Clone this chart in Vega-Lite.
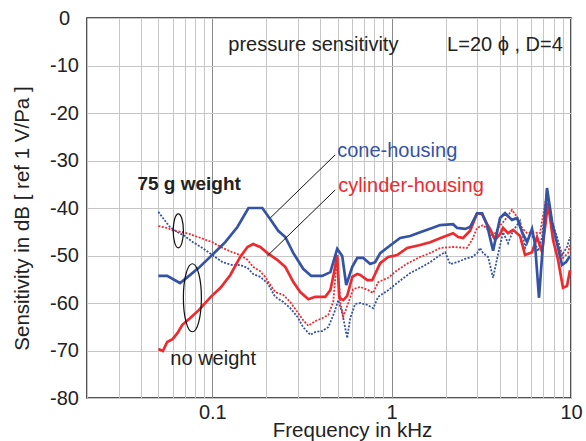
{
"$schema": "https://vega.github.io/schema/vega-lite/v6.json",
"width": 484,
"height": 380,
"autosize": {"type": "none"},
"padding": {"left": 87, "top": 18, "right": 15, "bottom": 43},
"background": "white",
"config": {
  "font": "Liberation Sans",
  "view": {"stroke": "#1a1a1a", "strokeWidth": 1.5},
  "axis": {"domain": false, "ticks": false, "tickSize": 0, "labelColor": "#222", "titleColor": "#222", "labelFontSize": 20, "titleFontSize": 20.5, "titleFontWeight": "normal", "labelOverlap": false, "labelBound": false, "labelFlush": false, "gridWidth": 1}
},
"datasets": {
  "curves": [
    {"s":"cone","w":"none","f":0.050,"d":-54.3},{"s":"cone","w":"none","f":0.056,"d":-54.3},{"s":"cone","w":"none","f":0.066,"d":-55.8},{"s":"cone","w":"none","f":0.073,"d":-54.5},{"s":"cone","w":"none","f":0.084,"d":-52.6},{"s":"cone","w":"none","f":0.101,"d":-49.7},{"s":"cone","w":"none","f":0.118,"d":-47.2},{"s":"cone","w":"none","f":0.138,"d":-44.0},{"s":"cone","w":"none","f":0.159,"d":-40.0},{"s":"cone","w":"none","f":0.190,"d":-40.0},{"s":"cone","w":"none","f":0.210,"d":-42.3},{"s":"cone","w":"none","f":0.233,"d":-44.8},{"s":"cone","w":"none","f":0.255,"d":-46.1},{"s":"cone","w":"none","f":0.283,"d":-49.5},{"s":"cone","w":"none","f":0.321,"d":-52.8},{"s":"cone","w":"none","f":0.356,"d":-54.3},{"s":"cone","w":"none","f":0.410,"d":-54.3},{"s":"cone","w":"none","f":0.455,"d":-53.5},{"s":"cone","w":"none","f":0.497,"d":-48.6},{"s":"cone","w":"none","f":0.530,"d":-50.1},{"s":"cone","w":"none","f":0.558,"d":-56.2},{"s":"cone","w":"none","f":0.603,"d":-52.4},{"s":"cone","w":"none","f":0.643,"d":-50.5},{"s":"cone","w":"none","f":0.694,"d":-50.5},{"s":"cone","w":"none","f":0.759,"d":-51.8},{"s":"cone","w":"none","f":0.809,"d":-51.4},{"s":"cone","w":"none","f":0.863,"d":-49.5},{"s":"cone","w":"none","f":0.956,"d":-48.2},{"s":"cone","w":"none","f":1.115,"d":-46.3},{"s":"cone","w":"none","f":1.268,"d":-45.9},{"s":"cone","w":"none","f":1.442,"d":-45.1},{"s":"cone","w":"none","f":1.682,"d":-44.2},{"s":"cone","w":"none","f":1.864,"d":-43.6},{"s":"cone","w":"none","f":2.201,"d":-43.4},{"s":"cone","w":"none","f":2.317,"d":-44.2},{"s":"cone","w":"none","f":2.567,"d":-44.4},{"s":"cone","w":"none","f":2.738,"d":-44.0},{"s":"cone","w":"none","f":2.995,"d":-41.1},{"s":"cone","w":"none","f":3.193,"d":-41.1},{"s":"cone","w":"none","f":3.404,"d":-43.6},{"s":"cone","w":"none","f":3.677,"d":-49.0},{"s":"cone","w":"none","f":4.022,"d":-42.1},{"s":"cone","w":"none","f":4.288,"d":-41.1},{"s":"cone","w":"none","f":4.691,"d":-42.5},{"s":"cone","w":"none","f":5.003,"d":-42.1},{"s":"cone","w":"none","f":5.334,"d":-45.1},{"s":"cone","w":"none","f":5.687,"d":-47.2},{"s":"cone","w":"none","f":6.063,"d":-44.4},{"s":"cone","w":"none","f":6.301,"d":-47.6},{"s":"cone","w":"none","f":6.632,"d":-58.9},{"s":"cone","w":"none","f":7.348,"d":-35.8},{"s":"cone","w":"none","f":7.839,"d":-42.9},{"s":"cone","w":"none","f":8.357,"d":-47.4},{"s":"cone","w":"none","f":8.911,"d":-52.0},{"s":"cone","w":"none","f":9.38,"d":-51.4},{"s":"cone","w":"none","f":9.872,"d":-50.1},
    {"s":"cyl","w":"none","f":0.050,"d":-69.7},{"s":"cyl","w":"none","f":0.053,"d":-70.1},{"s":"cyl","w":"none","f":0.056,"d":-68.2},{"s":"cyl","w":"none","f":0.060,"d":-67.6},{"s":"cyl","w":"none","f":0.064,"d":-66.3},{"s":"cyl","w":"none","f":0.068,"d":-64.6},{"s":"cyl","w":"none","f":0.075,"d":-63.2},{"s":"cyl","w":"none","f":0.084,"d":-61.5},{"s":"cyl","w":"none","f":0.098,"d":-58.7},{"s":"cyl","w":"none","f":0.111,"d":-56.8},{"s":"cyl","w":"none","f":0.126,"d":-54.1},{"s":"cyl","w":"none","f":0.143,"d":-50.3},{"s":"cyl","w":"none","f":0.157,"d":-48.2},{"s":"cyl","w":"none","f":0.169,"d":-47.6},{"s":"cyl","w":"none","f":0.185,"d":-48.2},{"s":"cyl","w":"none","f":0.203,"d":-49.5},{"s":"cyl","w":"none","f":0.230,"d":-50.9},{"s":"cyl","w":"none","f":0.255,"d":-52.4},{"s":"cyl","w":"none","f":0.283,"d":-55.6},{"s":"cyl","w":"none","f":0.309,"d":-57.7},{"s":"cyl","w":"none","f":0.343,"d":-59.2},{"s":"cyl","w":"none","f":0.375,"d":-58.7},{"s":"cyl","w":"none","f":0.426,"d":-58.7},{"s":"cyl","w":"none","f":0.455,"d":-57.3},{"s":"cyl","w":"none","f":0.472,"d":-54.5},{"s":"cyl","w":"none","f":0.497,"d":-49.9},{"s":"cyl","w":"none","f":0.510,"d":-58.9},{"s":"cyl","w":"none","f":0.537,"d":-59.4},{"s":"cyl","w":"none","f":0.565,"d":-58.5},{"s":"cyl","w":"none","f":0.603,"d":-54.5},{"s":"cyl","w":"none","f":0.643,"d":-53.9},{"s":"cyl","w":"none","f":0.668,"d":-54.1},{"s":"cyl","w":"none","f":0.731,"d":-55.2},{"s":"cyl","w":"none","f":0.779,"d":-55.2},{"s":"cyl","w":"none","f":0.863,"d":-51.6},{"s":"cyl","w":"none","f":0.956,"d":-50.3},{"s":"cyl","w":"none","f":1.073,"d":-49.9},{"s":"cyl","w":"none","f":1.220,"d":-48.4},{"s":"cyl","w":"none","f":1.442,"d":-47.8},{"s":"cyl","w":"none","f":1.639,"d":-47.2},{"s":"cyl","w":"none","f":1.937,"d":-46.1},{"s":"cyl","w":"none","f":2.201,"d":-45.3},{"s":"cyl","w":"none","f":2.347,"d":-46.1},{"s":"cyl","w":"none","f":2.502,"d":-46.3},{"s":"cyl","w":"none","f":2.738,"d":-44.8},{"s":"cyl","w":"none","f":2.995,"d":-41.1},{"s":"cyl","w":"none","f":3.193,"d":-41.3},{"s":"cyl","w":"none","f":3.404,"d":-43.4},{"s":"cyl","w":"none","f":3.538,"d":-44.4},{"s":"cyl","w":"none","f":3.772,"d":-46.7},{"s":"cyl","w":"none","f":4.022,"d":-45.5},{"s":"cyl","w":"none","f":4.180,"d":-44.2},{"s":"cyl","w":"none","f":4.457,"d":-45.3},{"s":"cyl","w":"none","f":4.752,"d":-44.6},{"s":"cyl","w":"none","f":5.199,"d":-45.9},{"s":"cyl","w":"none","f":5.543,"d":-49.9},{"s":"cyl","w":"none","f":6.063,"d":-49.3},{"s":"cyl","w":"none","f":6.465,"d":-46.1},{"s":"cyl","w":"none","f":6.893,"d":-49.3},{"s":"cyl","w":"none","f":7.444,"d":-38.9},{"s":"cyl","w":"none","f":7.940,"d":-46.7},{"s":"cyl","w":"none","f":8.465,"d":-50.9},{"s":"cyl","w":"none","f":9.024,"d":-56.8},{"s":"cyl","w":"none","f":9.500,"d":-56.4},{"s":"cyl","w":"none","f":9.872,"d":-53.1},
    {"s":"cone","w":"75g","f":0.050,"d":-40.8},{"s":"cone","w":"75g","f":0.053,"d":-42.1},{"s":"cone","w":"75g","f":0.058,"d":-44.0},{"s":"cone","w":"75g","f":0.064,"d":-45.1},{"s":"cone","w":"75g","f":0.069,"d":-45.7},{"s":"cone","w":"75g","f":0.078,"d":-47.2},{"s":"cone","w":"75g","f":0.088,"d":-48.4},{"s":"cone","w":"75g","f":0.100,"d":-49.9},{"s":"cone","w":"75g","f":0.114,"d":-51.4},{"s":"cone","w":"75g","f":0.129,"d":-52.0},{"s":"cone","w":"75g","f":0.143,"d":-52.0},{"s":"cone","w":"75g","f":0.157,"d":-52.6},{"s":"cone","w":"75g","f":0.169,"d":-53.9},{"s":"cone","w":"75g","f":0.185,"d":-54.5},{"s":"cone","w":"75g","f":0.203,"d":-55.8},{"s":"cone","w":"75g","f":0.224,"d":-58.7},{"s":"cone","w":"75g","f":0.249,"d":-59.8},{"s":"cone","w":"75g","f":0.272,"d":-61.1},{"s":"cone","w":"75g","f":0.298,"d":-62.9},{"s":"cone","w":"75g","f":0.321,"d":-65.1},{"s":"cone","w":"75g","f":0.352,"d":-66.7},{"s":"cone","w":"75g","f":0.375,"d":-66.1},{"s":"cone","w":"75g","f":0.410,"d":-65.9},{"s":"cone","w":"75g","f":0.443,"d":-65.1},{"s":"cone","w":"75g","f":0.478,"d":-62.1},{"s":"cone","w":"75g","f":0.504,"d":-59.4},{"s":"cone","w":"75g","f":0.530,"d":-62.1},{"s":"cone","w":"75g","f":0.551,"d":-65.3},{"s":"cone","w":"75g","f":0.565,"d":-67.4},{"s":"cone","w":"75g","f":0.587,"d":-63.2},{"s":"cone","w":"75g","f":0.626,"d":-60.2},{"s":"cone","w":"75g","f":0.668,"d":-60.0},{"s":"cone","w":"75g","f":0.731,"d":-60.4},{"s":"cone","w":"75g","f":0.789,"d":-61.1},{"s":"cone","w":"75g","f":0.841,"d":-58.7},{"s":"cone","w":"75g","f":0.956,"d":-57.3},{"s":"cone","w":"75g","f":1.087,"d":-55.6},{"s":"cone","w":"75g","f":1.268,"d":-53.7},{"s":"cone","w":"75g","f":1.442,"d":-52.6},{"s":"cone","w":"75g","f":1.639,"d":-51.4},{"s":"cone","w":"75g","f":1.864,"d":-49.9},{"s":"cone","w":"75g","f":1.987,"d":-49.3},{"s":"cone","w":"75g","f":2.118,"d":-51.8},{"s":"cone","w":"75g","f":2.317,"d":-51.4},{"s":"cone","w":"75g","f":2.567,"d":-50.7},{"s":"cone","w":"75g","f":2.809,"d":-50.3},{"s":"cone","w":"75g","f":2.995,"d":-49.5},{"s":"cone","w":"75g","f":3.112,"d":-48.4},{"s":"cone","w":"75g","f":3.234,"d":-49.5},{"s":"cone","w":"75g","f":3.448,"d":-50.3},{"s":"cone","w":"75g","f":3.677,"d":-54.7},{"s":"cone","w":"75g","f":3.920,"d":-49.7},{"s":"cone","w":"75g","f":4.180,"d":-45.1},{"s":"cone","w":"75g","f":4.457,"d":-47.4},{"s":"cone","w":"75g","f":4.752,"d":-44.8},{"s":"cone","w":"75g","f":5.199,"d":-42.7},{"s":"cone","w":"75g","f":5.543,"d":-48.4},{"s":"cone","w":"75g","f":5.910,"d":-45.7},{"s":"cone","w":"75g","f":6.142,"d":-46.1},{"s":"cone","w":"75g","f":6.549,"d":-49.1},{"s":"cone","w":"75g","f":6.893,"d":-46.1},{"s":"cone","w":"75g","f":7.348,"d":-36.2},{"s":"cone","w":"75g","f":7.839,"d":-42.9},{"s":"cone","w":"75g","f":8.357,"d":-46.1},{"s":"cone","w":"75g","f":8.911,"d":-49.9},{"s":"cone","w":"75g","f":9.500,"d":-48.2},{"s":"cone","w":"75g","f":9.872,"d":-46.1},
    {"s":"cyl","w":"75g","f":0.050,"d":-43.8},{"s":"cyl","w":"75g","f":0.056,"d":-44.2},{"s":"cyl","w":"75g","f":0.061,"d":-44.8},{"s":"cyl","w":"75g","f":0.069,"d":-45.1},{"s":"cyl","w":"75g","f":0.075,"d":-45.5},{"s":"cyl","w":"75g","f":0.086,"d":-46.3},{"s":"cyl","w":"75g","f":0.100,"d":-47.2},{"s":"cyl","w":"75g","f":0.114,"d":-48.4},{"s":"cyl","w":"75g","f":0.129,"d":-49.3},{"s":"cyl","w":"75g","f":0.143,"d":-49.9},{"s":"cyl","w":"75g","f":0.157,"d":-50.9},{"s":"cyl","w":"75g","f":0.169,"d":-52.4},{"s":"cyl","w":"75g","f":0.185,"d":-53.3},{"s":"cyl","w":"75g","f":0.197,"d":-54.5},{"s":"cyl","w":"75g","f":0.224,"d":-57.7},{"s":"cyl","w":"75g","f":0.249,"d":-58.3},{"s":"cyl","w":"75g","f":0.272,"d":-59.8},{"s":"cyl","w":"75g","f":0.298,"d":-61.9},{"s":"cyl","w":"75g","f":0.321,"d":-63.6},{"s":"cyl","w":"75g","f":0.343,"d":-64.8},{"s":"cyl","w":"75g","f":0.375,"d":-63.8},{"s":"cyl","w":"75g","f":0.410,"d":-63.2},{"s":"cyl","w":"75g","f":0.443,"d":-62.5},{"s":"cyl","w":"75g","f":0.472,"d":-59.8},{"s":"cyl","w":"75g","f":0.497,"d":-50.3},{"s":"cyl","w":"75g","f":0.517,"d":-59.8},{"s":"cyl","w":"75g","f":0.537,"d":-62.9},{"s":"cyl","w":"75g","f":0.573,"d":-60.0},{"s":"cyl","w":"75g","f":0.610,"d":-57.1},{"s":"cyl","w":"75g","f":0.668,"d":-56.6},{"s":"cyl","w":"75g","f":0.740,"d":-57.3},{"s":"cyl","w":"75g","f":0.789,"d":-57.9},{"s":"cyl","w":"75g","f":0.841,"d":-55.6},{"s":"cyl","w":"75g","f":0.956,"d":-54.7},{"s":"cyl","w":"75g","f":1.073,"d":-53.1},{"s":"cyl","w":"75g","f":1.236,"d":-51.6},{"s":"cyl","w":"75g","f":1.442,"d":-50.3},{"s":"cyl","w":"75g","f":1.682,"d":-49.3},{"s":"cyl","w":"75g","f":1.864,"d":-48.4},{"s":"cyl","w":"75g","f":2.201,"d":-48.2},{"s":"cyl","w":"75g","f":2.634,"d":-48.4},{"s":"cyl","w":"75g","f":2.809,"d":-46.7},{"s":"cyl","w":"75g","f":2.995,"d":-44.2},{"s":"cyl","w":"75g","f":3.234,"d":-43.6},{"s":"cyl","w":"75g","f":3.448,"d":-44.6},{"s":"cyl","w":"75g","f":3.677,"d":-46.1},{"s":"cyl","w":"75g","f":3.920,"d":-44.2},{"s":"cyl","w":"75g","f":4.288,"d":-42.5},{"s":"cyl","w":"75g","f":4.691,"d":-40.4},{"s":"cyl","w":"75g","f":5.003,"d":-41.9},{"s":"cyl","w":"75g","f":5.334,"d":-44.2},{"s":"cyl","w":"75g","f":5.687,"d":-45.3},{"s":"cyl","w":"75g","f":6.063,"d":-45.1},{"s":"cyl","w":"75g","f":6.719,"d":-45.3},{"s":"cyl","w":"75g","f":7.348,"d":-36.8},{"s":"cyl","w":"75g","f":7.940,"d":-44.6},{"s":"cyl","w":"75g","f":8.465,"d":-47.8},{"s":"cyl","w":"75g","f":9.024,"d":-50.5},{"s":"cyl","w":"75g","f":9.623,"d":-49.5},{"s":"cyl","w":"75g","f":9.872,"d":-47.8}
  ],
  "notes": [
    {"t":"pressure sensitivity","k":"plain","f":0.1228,"d":-6.95},
    {"t":"L=20 ϕ , D=4","k":"plain","f":2.037,"d":-6.95},
    {"t":"no weight","k":"plain","f":0.0583,"d":-73.05},
    {"t":"75 g weight","k":"bold","f":0.0382,"d":-36.2},
    {"t":"cone-housing","k":"blue","f":0.497,"d":-29.3},
    {"t":"cylinder-housing","k":"red","f":0.503,"d":-36.6}
  ],
  "rings": [
    {"k":"small","f":0.0646,"d":-44.8},
    {"k":"large","f":0.0774,"d":-58.9}
  ],
  "leaders": [
    {"f":0.4843,"d":-28.8,"f2":0.2104,"d2":-42.1},
    {"f":0.4843,"d":-36.2,"f2":0.2025,"d2":-50.1}
  ]
},
"encoding": {
  "x": {"field": "f", "type": "quantitative",
    "scale": {"type": "log", "domain": [0.02, 10], "nice": false},
    "axis": {"title": "Frequency in kHz", "values": [0.02,0.03,0.04,0.05,0.06,0.07,0.08,0.09,0.1,0.2,0.3,0.4,0.5,0.6,0.7,0.8,0.9,1,2,3,4,5,6,7,8,9,10],
      "labelExpr": "datum.value == 0.1 ? '0.1' : datum.value == 1 ? '1' : datum.value == 10 ? '10' : ''",
      "labelPadding": 4, "labelAlign": "center",
      "gridColor": {"condition": {"test": "datum.value == 0.1 || datum.value == 1", "value": "#8a8a8a"}, "value": "#c6c6c6"},
      "titleX": 265, "titleY": 38, "titleBaseline": "alphabetic", "titleAlign": "center"}},
  "y": {"field": "d", "type": "quantitative",
    "scale": {"domain": [-80, 0], "nice": false},
    "axis": {"title": "Sensitivity in dB [ ref 1 V/Pa ]", "values": [-80,-70,-60,-50,-40,-30,-20,-10,0],
      "labelExpr": "'' + datum.value",
      "labelAlign": "center", "labelPadding": 23, "gridColor": "#c6c6c6",
      "titleX": -58.5, "titleY": 200, "titleBaseline": "alphabetic", "titleAlign": "center"}}
},
"layer": [
  {"data": {"name": "curves"}, "transform": [{"filter": "datum.s == 'cone' && datum.w == '75g'"}],
   "mark": {"type": "line", "color": "#3553a5", "strokeWidth": 1.8, "strokeDash": [2, 1.5]}},
  {"data": {"name": "curves"}, "transform": [{"filter": "datum.s == 'cyl' && datum.w == '75g'"}],
   "mark": {"type": "line", "color": "#ee2a2e", "strokeWidth": 1.8, "strokeDash": [2, 1.5]}},
  {"data": {"name": "curves"}, "transform": [{"filter": "datum.s == 'cyl' && datum.w == 'none'"}],
   "mark": {"type": "line", "color": "#ee2a2e", "strokeWidth": 2.7}},
  {"data": {"name": "curves"}, "transform": [{"filter": "datum.s == 'cone' && datum.w == 'none'"}],
   "mark": {"type": "line", "color": "#3553a5", "strokeWidth": 2.7}},
  {"data": {"name": "rings"}, "transform": [{"filter": "datum.k == 'small'"}],
   "mark": {"type": "point", "shape": "M0,-1A0.3,1,0,1,1,0,1A0.3,1,0,1,1,0,-1Z", "size": 1156, "filled": false, "stroke": "#111", "strokeWidth": 1.2, "opacity": 1}},
  {"data": {"name": "rings"}, "transform": [{"filter": "datum.k == 'large'"}],
   "mark": {"type": "point", "shape": "M0,-1A0.265,1,0,1,1,0,1A0.265,1,0,1,1,0,-1Z", "size": 4624, "filled": false, "stroke": "#111", "strokeWidth": 1.2, "opacity": 1}},
  {"data": {"name": "leaders"},
   "mark": {"type": "rule", "color": "#111", "strokeWidth": 1},
   "encoding": {"x2": {"field": "f2"}, "y2": {"field": "d2"}}},
  {"data": {"name": "notes"}, "transform": [{"filter": "datum.k == 'plain'"}],
   "mark": {"type": "text", "align": "left", "baseline": "alphabetic", "fontSize": 20, "color": "#222"},
   "encoding": {"text": {"field": "t"}}},
  {"data": {"name": "notes"}, "transform": [{"filter": "datum.k == 'bold'"}],
   "mark": {"type": "text", "align": "left", "baseline": "alphabetic", "fontSize": 19, "fontWeight": "bold", "color": "#222"},
   "encoding": {"text": {"field": "t"}}},
  {"data": {"name": "notes"}, "transform": [{"filter": "datum.k == 'blue'"}],
   "mark": {"type": "text", "align": "left", "baseline": "alphabetic", "fontSize": 20, "color": "#3553a5"},
   "encoding": {"text": {"field": "t"}}},
  {"data": {"name": "notes"}, "transform": [{"filter": "datum.k == 'red'"}],
   "mark": {"type": "text", "align": "left", "baseline": "alphabetic", "fontSize": 20, "color": "#ee2a2e"},
   "encoding": {"text": {"field": "t"}}}
]
}
